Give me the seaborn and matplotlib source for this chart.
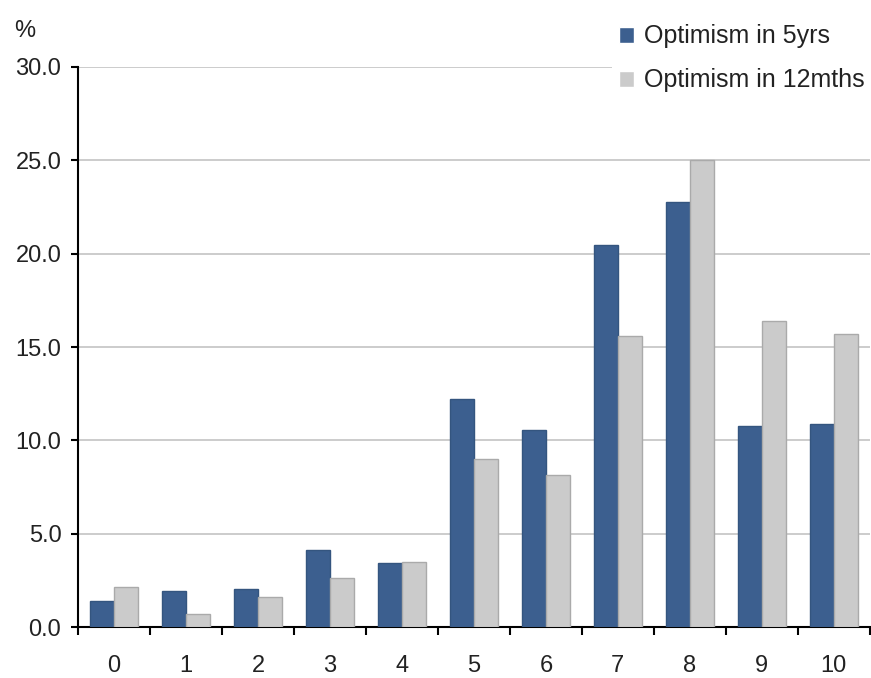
import numpy as np
import pandas as pd
import matplotlib
matplotlib.use("Agg")
import matplotlib.pyplot as plt
import seaborn as sns
from matplotlib.ticker import FixedLocator

# Data
scores = ["0", "1", "2", "3", "4", "5", "6", "7", "8", "9", "10"]
optimism_5yrs = [1.4, 1.95, 2.05, 4.1, 3.45, 12.2, 10.55, 20.45, 22.75, 10.75, 10.9]
optimism_12mths = [2.15, 0.7, 1.6, 2.6, 3.5, 9.0, 8.15, 15.6, 25.0, 16.4, 15.7]
series_names = ["Optimism in 5yrs", "Optimism in 12mths"]

df = pd.DataFrame({
    "score": scores * 2,
    "value": optimism_5yrs + optimism_12mths,
    "series": [series_names[0]] * len(scores) + [series_names[1]] * len(scores),
})

sns.set_theme(style="white")
plt.rcParams["font.family"] = ["Liberation Sans", "DejaVu Sans"]
FS = 17

fig = plt.figure(figsize=(8.71, 6.78), dpi=100, facecolor="white")
ax = fig.add_axes([0.0896, 0.0752, 0.909, 0.826])

palette = {series_names[0]: "#3C5F8F", series_names[1]: "#CBCBCB"}
sns.barplot(data=df, x="score", y="value", hue="series", order=scores,
            hue_order=series_names, palette=palette, width=0.67,
            saturation=1, ax=ax, zorder=3)

for patch, ec in zip(ax.patches, ["#34557F"] * len(scores) + ["#AAAAAA"] * len(scores)):
    patch.set_edgecolor(ec)
    patch.set_linewidth(1.0)

ax.set_xlim(-0.5, len(scores) - 0.5)
ax.set_ylim(0, 30)
ax.set_yticks(np.arange(0, 30.1, 5))
ax.set_yticklabels([f"{v:.1f}" for v in np.arange(0, 30.1, 5)])
ax.yaxis.grid(True, color="#C4C4C4", linewidth=1.2, zorder=0)
ax.set_axisbelow(True)

# x ticks between categories
ax.xaxis.set_minor_locator(FixedLocator(np.arange(-0.5, len(scores), 1.0)))
ax.tick_params(axis="both", which="both", bottom=True, left=True)
ax.tick_params(axis="x", which="major", length=0, pad=20, labelsize=FS, labelcolor="#222222")
ax.tick_params(axis="x", which="minor", length=6, width=1.5, direction="out", color="black")
ax.tick_params(axis="y", which="major", length=5, width=1.5, direction="out",
               labelsize=FS, color="black", labelcolor="#222222", pad=7)

ax.set_xlabel("")
ax.set_ylabel("")
for side in ["top", "right"]:
    ax.spines[side].set_visible(False)
for side in ["left", "bottom"]:
    ax.spines[side].set_color("black")
    ax.spines[side].set_linewidth(1.5)

fig.text(0.016, 0.955, "%", fontsize=FS, color="#222222", va="center", ha="left")

handles, labels = ax.get_legend_handles_labels()
leg = ax.legend(handles, labels, loc="upper right", bbox_to_anchor=(1.0015, 0.975),
                bbox_transform=fig.transFigure, frameon=True, facecolor="white",
                edgecolor="none", framealpha=1, fontsize=18, handlelength=0.6,
                handleheight=0.6, handletextpad=0.4, labelspacing=0.8,
                borderpad=0.3, borderaxespad=0)
for t in leg.get_texts():
    t.set_color("#222222")
leg.set_zorder(10)

fig.savefig("out.png", dpi=100, facecolor="white")
